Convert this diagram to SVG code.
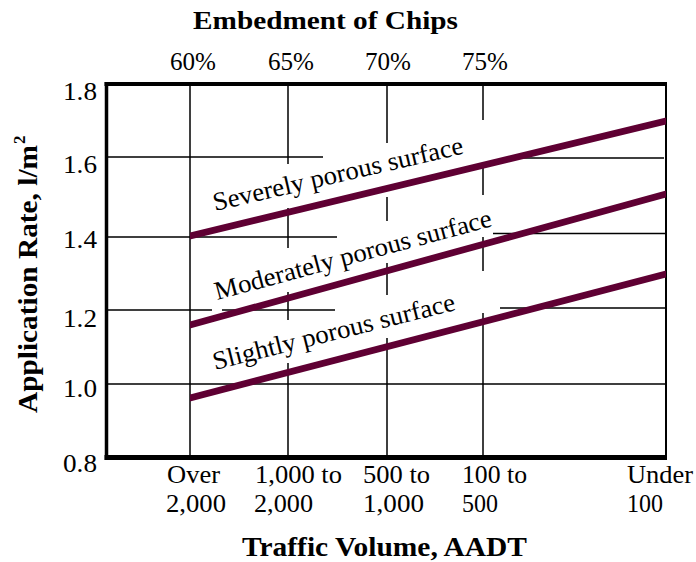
<svg xmlns="http://www.w3.org/2000/svg" width="696" height="562" viewBox="0 0 696 562">
<style>
text{font-family:"Liberation Serif","Times New Roman",serif;fill:#000}
.t{font-size:25px}
.b{font-weight:bold;font-size:26px}
.lab{font-size:26px}
.g{stroke:#000;stroke-width:1.5;fill:none}
.c{fill:#5f0033;stroke:none}
</style>
<rect width="696" height="562" fill="#fff"/>
<g id="grid">
<path class="g" d="M190 84V457M288 84V164M288 208V248M288 292V320M288 363V457M387 84V143M387 197V221M387 263V295M387 338V457M483 84V120M483 168V195M483 237V271M483 313V457"/>
<path class="g" d="M107 157H323M517 158H664M107 237H337M493 233.5H666M107 310H212M222 310H335M500 308H666M107 384H666"/>
</g>
<g id="frame" stroke="#000" fill="none">
<path d="M104.5 84H667" stroke-width="4"/>
<path d="M104.5 457.5H667" stroke-width="5"/>
<path d="M106.5 82V460" stroke-width="3.5"/>
<path d="M666 82V460" stroke-width="2"/>
</g>
<g id="connectors">
<polygon class="c" points="190,232.5 666,117.5 666,124.5 190,239.5"/>
<polygon class="c" points="190,321.5 666,190.5 666,197.5 190,328.5"/>
<polygon class="c" points="190,394.5 666,270.5 666,277.5 190,401.5"/>
</g>
<g id="curve-labels">
<text class="lab" transform="translate(215,211) rotate(-13)" textLength="256" lengthAdjust="spacingAndGlyphs">Severely porous surface</text>
<text class="lab" transform="translate(217,300) rotate(-15)" textLength="286" lengthAdjust="spacingAndGlyphs">Moderately porous surface</text>
<text class="lab" transform="translate(215,370) rotate(-14)" textLength="249" lengthAdjust="spacingAndGlyphs">Slightly porous surface</text>
</g>
<g id="top-axis">
<text class="b" x="193" y="29" textLength="265" lengthAdjust="spacingAndGlyphs">Embedment of Chips</text>
<text class="t" x="170" y="70" textLength="46" lengthAdjust="spacingAndGlyphs">60%</text>
<text class="t" x="268" y="70" textLength="46" lengthAdjust="spacingAndGlyphs">65%</text>
<text class="t" x="365" y="70" textLength="46" lengthAdjust="spacingAndGlyphs">70%</text>
<text class="t" x="462" y="70" textLength="46" lengthAdjust="spacingAndGlyphs">75%</text>
</g>
<g id="left-axis">
<text class="t" x="63" y="100" textLength="34" lengthAdjust="spacingAndGlyphs">1.8</text>
<text class="t" x="63" y="173" textLength="34" lengthAdjust="spacingAndGlyphs">1.6</text>
<text class="t" x="63" y="248" textLength="34" lengthAdjust="spacingAndGlyphs">1.4</text>
<text class="t" x="63" y="327" textLength="34" lengthAdjust="spacingAndGlyphs">1.2</text>
<text class="t" x="63" y="397" textLength="34" lengthAdjust="spacingAndGlyphs">1.0</text>
<text class="t" x="63" y="472" textLength="34" lengthAdjust="spacingAndGlyphs">0.8</text>
<text class="b" style="font-size:28px" transform="translate(37,413) rotate(-90)" textLength="268" lengthAdjust="spacingAndGlyphs">Application Rate, l/m</text>
<text class="b" style="font-size:17px" transform="translate(25,144) rotate(-90)">2</text>
</g>
<g id="bottom-axis">
<text class="t" x="167" y="483" textLength="53" lengthAdjust="spacingAndGlyphs">Over</text>
<text class="t" x="166" y="512" textLength="60" lengthAdjust="spacingAndGlyphs">2,000</text>
<text class="t" x="255" y="483" textLength="87" lengthAdjust="spacingAndGlyphs">1,000 to</text>
<text class="t" x="254" y="512" textLength="59" lengthAdjust="spacingAndGlyphs">2,000</text>
<text class="t" x="363" y="483" textLength="67" lengthAdjust="spacingAndGlyphs">500 to</text>
<text class="t" x="363" y="512" textLength="61" lengthAdjust="spacingAndGlyphs">1,000</text>
<text class="t" x="462" y="483" textLength="65" lengthAdjust="spacingAndGlyphs">100 to</text>
<text class="t" x="462" y="512" textLength="36" lengthAdjust="spacingAndGlyphs">500</text>
<text class="t" x="627" y="483" textLength="66" lengthAdjust="spacingAndGlyphs">Under</text>
<text class="t" x="627" y="512" textLength="36" lengthAdjust="spacingAndGlyphs">100</text>
<text class="b" style="font-size:28px" x="242" y="556" textLength="285" lengthAdjust="spacingAndGlyphs">Traffic Volume, AADT</text>
</g>
</svg>
